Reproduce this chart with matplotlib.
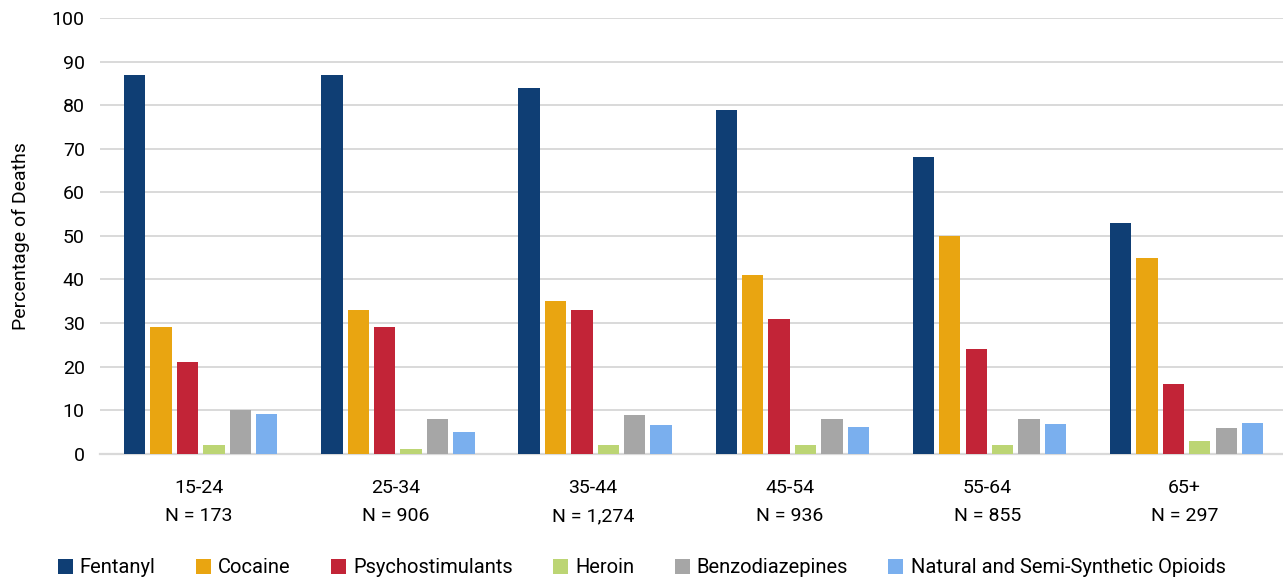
import matplotlib
matplotlib.use('Agg')
import matplotlib.pyplot as plt
import numpy as np

# Данные
age_groups = ['15-24', '25-34', '35-44', '45-54', '55-64', '65+']
n_counts = ['173', '906', '1,274', '936', '855', '297']
drugs = ['Fentanyl', 'Cocaine', 'Psychostimulants', 'Heroin', 'Benzodiazepines',
         'Natural and Semi-Synthetic Opioids']
fentanyl = [87, 87, 84, 79, 68, 53]
cocaine = [29, 33, 35, 41, 50, 45]
psychostimulants = [21, 29, 33, 31, 24, 16]
heroin = [2, 1, 2, 2, 2, 3]
benzodiazepines = [10, 8, 9, 8, 8, 6]
natural_opioids = [9.2, 5.1, 6.7, 6.1, 6.9, 7.0]

colors = ['#0F3E74', '#E9A511', '#C22437', '#BCD574', '#A6A6A6', '#7AAFEE']

plt.rcParams['font.family'] = ['Roboto', 'DejaVu Sans']

fig = plt.figure(figsize=(12.83, 5.81), dpi=100)
ax = fig.add_axes([0.078, 0.219, 0.922, 0.75])

series = [fentanyl, cocaine, psychostimulants, heroin, benzodiazepines, natural_opioids]
x = np.arange(len(age_groups))
step = 0.134
width = 0.108
for i, (vals, name, c) in enumerate(zip(series, drugs, colors)):
    ax.bar(x + (i - 2.42) * step, vals, width, color=c, label=name, zorder=3)

ax.set_xlim(-0.5, len(age_groups) - 0.5)
ax.set_ylim(0, 100)
ax.set_yticks(range(0, 101, 10))
ax.set_xticks(x)
ax.set_xticklabels([f'{a}\nN = {n}' for a, n in zip(age_groups, n_counts)],
                   fontsize=14, linespacing=1.75)
ax.tick_params(axis='y', labelsize=14, length=0, pad=11)
ax.tick_params(axis='x', length=0, pad=18)
ax.grid(axis='y', color='#D9D9D9', linewidth=1.4, zorder=0)
for s in ['top', 'right', 'left']:
    ax.spines[s].set_visible(False)
ax.spines['bottom'].set_color('#D9D9D9')
ax.spines['bottom'].set_linewidth(1.6)
ax.set_ylabel('Percentage of Deaths', fontsize=14, labelpad=16)

fig.legend(loc='lower center', bbox_to_anchor=(0.5, -0.025), ncol=6, frameon=False,
           fontsize=14.5, handlelength=0.75, handleheight=0.75, handletextpad=0.35,
           columnspacing=2.0)

fig.savefig('out.png', dpi=100)
